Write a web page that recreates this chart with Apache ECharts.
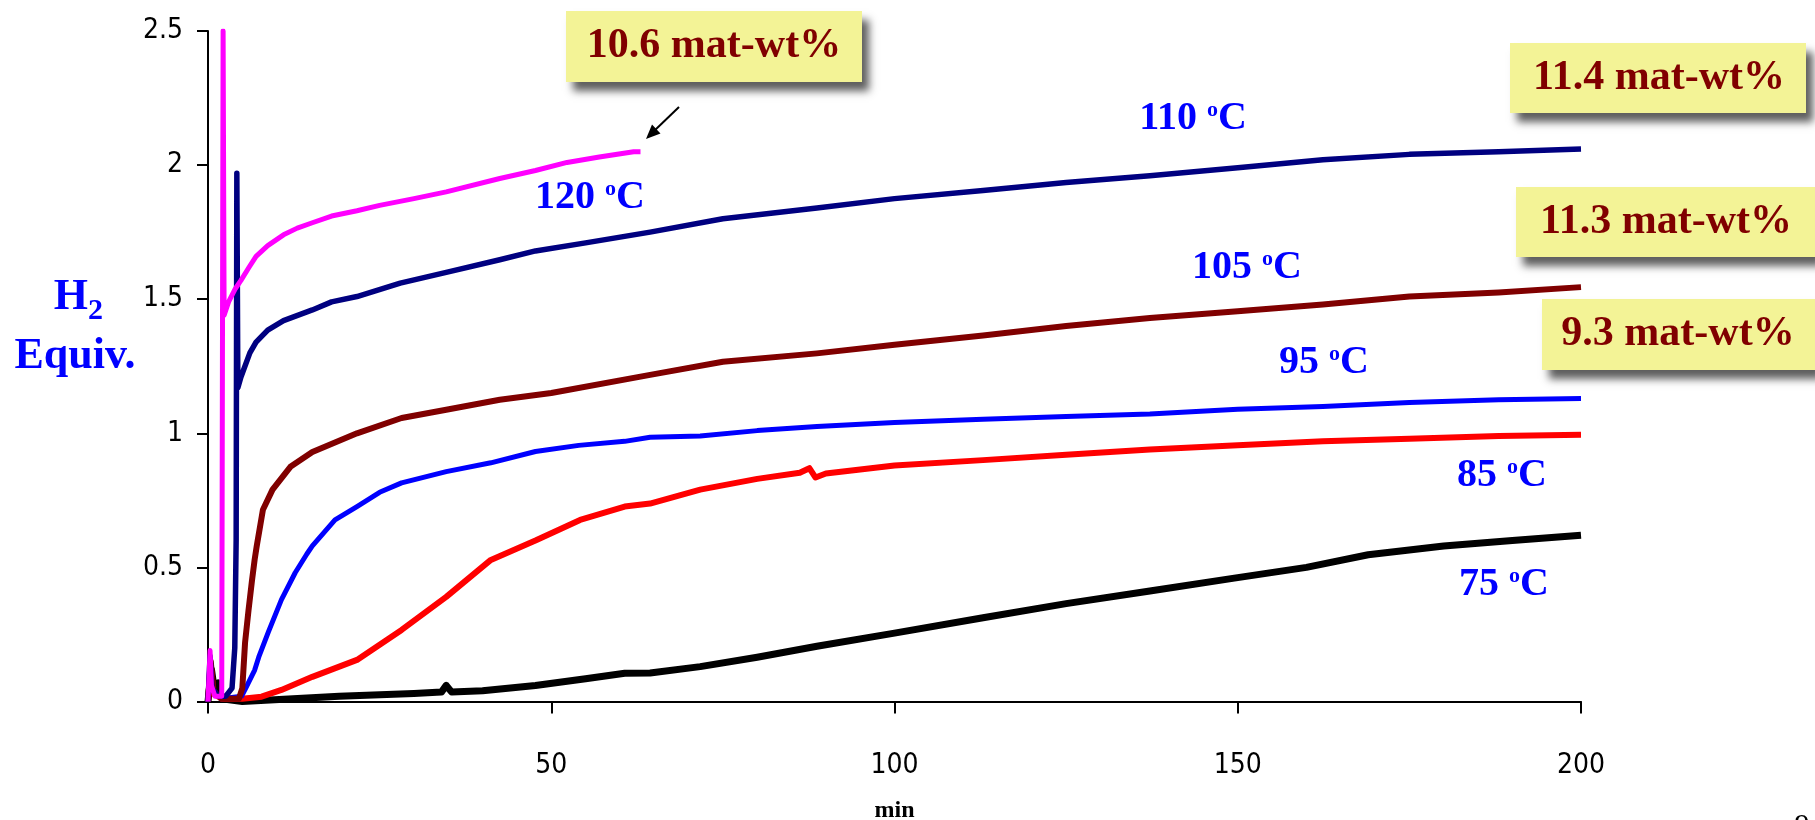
<!DOCTYPE html>
<html>
<head>
<meta charset="utf-8">
<script src="https://cdn.jsdelivr.net/npm/echarts@6/dist/echarts.min.js"></script>
<style>
html,body{margin:0;padding:0;background:#fff;}
#chart{width:1815px;height:820px;}
</style>
</head>
<body>
<div id="chart"></div>
<script>
// ---- data (time in min, H2 equivalents) ----
const xTicks = [0, 50, 100, 150, 200];
const yTicks = [0, 0.5, 1, 1.5, 2, 2.5];

const s120 = [[0,0],[0.3,0.19],[0.5,0.06],[1.0,0.02],[2.0,0.02],[2.2,2.5],[2.35,1.44],[3.0,1.49],[4.0,1.54],[4.8,1.57],[6,1.62],[7,1.66],[8.7,1.70],[11,1.74],[13,1.765],[15.2,1.785],[18,1.81],[21.7,1.83],[25,1.85],[30,1.875],[34.7,1.90],[42.5,1.95],[47.7,1.98],[52.3,2.01],[57,2.03],[62,2.05],[63,2.05]];
const s110 = [[0,0],[0.3,0.17],[0.6,0.05],[1.5,0.02],[2.6,0.02],[3.5,0.05],[3.9,0.2],[4.1,0.6],[4.2,1.97],[4.35,1.17],[4.8,1.21],[6.1,1.30],[7,1.34],[8.7,1.385],[11,1.42],[15.2,1.46],[18,1.49],[21.7,1.51],[28,1.56],[34.7,1.60],[42.5,1.647],[47.7,1.68],[55,1.71],[64.4,1.75],[75,1.80],[88.7,1.84],[100,1.875],[112.9,1.905],[125,1.935],[137.2,1.96],[150,1.99],[162.4,2.02],[175,2.04],[188,2.05],[200,2.06]];
const s105 = [[0,0],[0.4,0.15],[0.8,0.04],[2,0.01],[4.5,0.01],[5.0,0.05],[5.4,0.22],[5.9,0.34],[6.4,0.45],[6.8,0.53],[7.1,0.58],[8.0,0.715],[9.4,0.79],[12,0.875],[15.2,0.93],[21.7,1.0],[28.2,1.057],[34.7,1.088],[42.5,1.125],[50,1.15],[64.4,1.218],[75,1.267],[88.7,1.298],[100,1.33],[112.9,1.365],[125,1.40],[137.2,1.43],[150,1.455],[162.4,1.48],[175,1.51],[188,1.525],[200,1.545]];
const s95 = [[0,0],[0.3,0.16],[0.7,0.04],[2,0.01],[4.9,0.02],[5.5,0.05],[6.8,0.117],[7.4,0.166],[8.8,0.26],[10.7,0.38],[12.7,0.48],[14.4,0.55],[15.2,0.58],[18.5,0.677],[21.7,0.727],[25,0.78],[28.2,0.815],[34.7,0.857],[41.2,0.89],[47.7,0.932],[54,0.955],[60.7,0.97],[64.4,0.985],[71.7,0.99],[80,1.01],[88.7,1.025],[100,1.04],[112.9,1.052],[125,1.063],[137.2,1.072],[150,1.09],[162.4,1.10],[175,1.115],[188,1.125],[200,1.13]];
const s85 = [[0,0],[0.4,0.13],[0.8,0.03],[2,0.01],[5,0.01],[7.8,0.018],[10.7,0.043],[15.2,0.092],[21.7,0.155],[28.2,0.267],[34.7,0.39],[41.2,0.528],[47.7,0.60],[54.2,0.677],[60.7,0.727],[64.4,0.738],[71.7,0.79],[80,0.83],[86.2,0.853],[87.6,0.87],[88.5,0.835],[90,0.85],[100,0.88],[112.9,0.90],[125,0.92],[137.2,0.94],[150,0.955],[162.4,0.97],[175,0.98],[188,0.99],[200,0.995]];
const s75 = [[0,0],[0.5,0.12],[1.0,0.03],[1.5,0.07],[2,0.01],[5,0.0],[19.1,0.02],[30,0.03],[34,0.035],[34.7,0.06],[35.5,0.035],[40,0.04],[47.7,0.06],[55,0.085],[60.7,0.105],[64.4,0.106],[71.7,0.13],[80,0.165],[88.7,0.206],[100,0.255],[112.9,0.312],[125,0.365],[137.2,0.412],[149.5,0.46],[160,0.50],[169,0.547],[180,0.58],[190,0.60],[200,0.62]];

const seriesNames = ['120 oC','110 oC','105 oC','95 oC','85 oC','75 oC'];
const seriesData = [s120, s110, s105, s95, s85, s75];
const seriesColors = ['#FF00FF','#000080','#800000','#0000FF','#FF0000','#000000'];
const seriesWidths = [5, 5.5, 6, 5, 6, 7];

const tempLabels = ['120','110','105','95','85','75'];
const boxLabels = ['10.6 mat-wt%','11.4 mat-wt%','11.3 mat-wt%','9.3 mat-wt%'];

// ---- chart ----
const chart = echarts.init(document.getElementById('chart'), null, {renderer:'canvas'});
const serif = "'Liberation Serif','Times New Roman',serif";
const narrow = "'Liberation Sans Narrow','DejaVu Sans Condensed','Liberation Sans',sans-serif";

const mctx = document.createElement('canvas').getContext('2d');
function measure(txt, font){ mctx.font = font; return mctx.measureText(txt).width; }

const BLUE = '#0000FF';
function tempText(label, cx, cy){
  const fBig = 'bold 40px ' + serif, fSmall = 'bold 22px ' + serif;
  const w1 = measure(label + ' ', fBig), wo = measure('o', fSmall), wc = measure('C', fBig);
  const x0 = cx - (w1 + wo + wc) / 2;
  return [
    {type:'text', x:x0, y:cy, z:100, style:{text:label + ' ', align:'left', verticalAlign:'middle', font:fBig, fill:BLUE}},
    {type:'text', x:x0 + w1, y:cy - 9, z:100, style:{text:'o', align:'left', verticalAlign:'middle', font:fSmall, fill:BLUE}},
    {type:'text', x:x0 + w1 + wo, y:cy, z:100, style:{text:'C', align:'left', verticalAlign:'middle', font:fBig, fill:BLUE}}
  ];
}
function box(label, x, y, w, h, tx){
  return [
    {type:'rect', z:90, shape:{x:x, y:y, width:w, height:h},
     style:{fill:'#F3F396', shadowBlur:8, shadowOffsetX:7, shadowOffsetY:9, shadowColor:'rgba(40,40,40,0.75)'}},
    {type:'text', z:95, x:tx, y:y + h/2,
     style:{text:label, align:'center', verticalAlign:'middle', font:'bold 42px ' + serif, fill:'#800000'}}
  ];
}

const graphics = [].concat(
  box(boxLabels[0], 566, 11, 296, 71, 714),
  box(boxLabels[1], 1510, 43, 296, 70, 1659),
  box(boxLabels[2], 1516, 187, 299, 70, 1666),
  box(boxLabels[3], 1542, 299, 273, 71, 1678),
  tempText(tempLabels[0], 590, 198),
  tempText(tempLabels[1], 1193, 119),
  tempText(tempLabels[2], 1247, 268),
  tempText(tempLabels[3], 1324, 363),
  tempText(tempLabels[4], 1502, 476),
  tempText(tempLabels[5], 1504, 585),
  [
    // y axis title
    {type:'text', x:88, y:298, style:{text:'H', align:'right', verticalAlign:'middle', font:'bold 44px ' + serif, fill:BLUE}},
    {type:'text', x:88, y:311, style:{text:'2', align:'left', verticalAlign:'middle', font:'bold 30px ' + serif, fill:BLUE}},
    {type:'text', x:75, y:357, style:{text:'Equiv.', align:'center', verticalAlign:'middle', font:'bold 44px ' + serif, fill:BLUE}},
    // arrow
    {type:'line', shape:{x1:679, y1:107, x2:653, y2:132}, style:{stroke:'#000', lineWidth:2}},
    {type:'polygon', shape:{points:[[646,139],[660.5,133.5],[652,124.5]]}, style:{fill:'#000'}},
    // page number (cut off at bottom)
    {type:'text', x:1802, y:811, style:{text:'9', align:'center', verticalAlign:'top', font:'30px ' + serif, fill:'#000'}}
  ]
);

const option = {
  animation:false,
  backgroundColor:'#fff',
  grid:{left:208, right:234, top:31, bottom:118.5, containLabel:false, outerBoundsMode:'none'},
  xAxis:{
    type:'value', min:0, max:200, interval:50,
    name:'min', nameLocation:'middle', nameGap:97,
    nameTextStyle:{fontSize:24, fontWeight:'bold', fontFamily:serif, color:'#000'},
    axisLine:{show:true, onZero:false, lineStyle:{color:'#000', width:2}},
    axisTick:{show:true, inside:false, length:12, lineStyle:{color:'#000', width:2}},
    axisLabel:{show:true, margin:50, fontSize:28, fontFamily:narrow, color:'#000',
      formatter:function(v){ return xTicks.indexOf(v) >= 0 ? String(v) : ''; }},
    splitLine:{show:false}
  },
  yAxis:{
    type:'value', min:0, max:2.5, interval:0.5,
    axisLine:{show:true, onZero:false, lineStyle:{color:'#000', width:2}},
    axisTick:{show:true, inside:false, length:11, lineStyle:{color:'#000', width:2}},
    axisLabel:{show:true, margin:25, fontSize:28, fontFamily:narrow, color:'#000',
      formatter:function(v){ return yTicks.indexOf(v) >= 0 ? String(v) : ''; }},
    splitLine:{show:false}
  },
  series: seriesData.map(function(d, i){
    return {
      name:seriesNames[i], type:'line', data:d, showSymbol:false, symbol:'none',
      clip:true, z:2 + (5 - i),
      lineStyle:{color:seriesColors[i], width:seriesWidths[i], join:'round'},
      emphasis:{disabled:true}
    };
  }),
  graphic: graphics
};
chart.setOption(option);
</script>
</body>
</html>
